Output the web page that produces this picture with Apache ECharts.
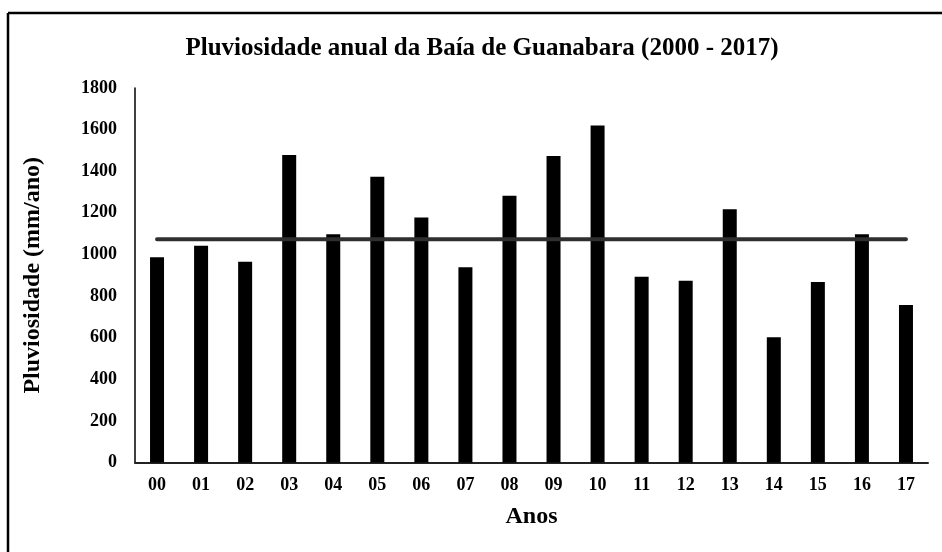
<!DOCTYPE html>
<html>
<head>
<meta charset="utf-8">
<script src="https://cdn.jsdelivr.net/npm/echarts@6/dist/echarts.min.js"></script>
<style>
html,body{margin:0;padding:0;background:#fff;}
#c{width:942px;height:552px;}
</style>
</head>
<body>
<div id="c"></div>
<script>
const categories = ['00','01','02','03','04','05','06','07','08','09','10','11','12','13','14','15','16','17'];
const rainfall = [986,1042,965,1478,1097,1373,1178,938,1282,1473,1620,893,874,1217,602,867,1097,757];
const meanValue = 1073;
const yTicks = [0,200,400,600,800,1000,1200,1400,1600,1800];

const font = 'Liberation Serif';
const chart = echarts.init(document.getElementById('c'), null, {renderer:'canvas'});
chart.setOption({
  animation:false,
  backgroundColor:'#fff',
  title:{
    text:'Pluviosidade anual da Baía de Guanabara (2000 - 2017)',
    left:477, top:31, textAlign:'center',
    textStyle:{fontFamily:font, fontWeight:'bold', fontSize:25, color:'#000'}
  },
  graphic:[
    {type:'line', shape:{x1:8,y1:13,x2:942,y2:13}, style:{stroke:'#000', lineWidth:2.5}},
    {type:'line', shape:{x1:8,y1:13,x2:8,y2:552}, style:{stroke:'#000', lineWidth:2.5}}
  ],
  grid:{left:135, right:14, top:88, bottom:89.5},
  xAxis:{
    type:'category', data:categories, boundaryGap:true,
    name:'Anos', nameLocation:'middle', nameGap:42,
    nameTextStyle:{fontFamily:font, fontWeight:'bold', fontSize:24, color:'#000'},
    axisLine:{lineStyle:{color:'#222', width:2}},
    axisTick:{show:false},
    axisLabel:{fontFamily:font, fontWeight:'bold', fontSize:18, color:'#000', margin:14}
  },
  yAxis:{
    type:'value', min:0, max:1800, interval:200,
    name:'Pluviosidade (mm/ano)', nameLocation:'middle', nameGap:90, nameRotate:90,
    nameTextStyle:{fontFamily:font, fontWeight:'bold', fontSize:24, color:'#000'},
    axisLine:{show:true, lineStyle:{color:'#000', width:1.5}},
    axisTick:{show:false},
    splitLine:{show:false},
    axisLabel:{fontFamily:font, fontWeight:'bold', fontSize:18, color:'#000', margin:18,
      formatter:function(v){return yTicks.indexOf(v)>=0?String(v):'';}}
  },
  series:[
    {type:'bar', data:rainfall, barWidth:14, itemStyle:{color:'#000'}, z:2},
    {type:'line', data:categories.map(function(){return meanValue;}), symbol:'none',
      lineStyle:{color:'#2f2f2f', width:4, cap:'round'}, z:3}
  ]
});
</script>
</body>
</html>
